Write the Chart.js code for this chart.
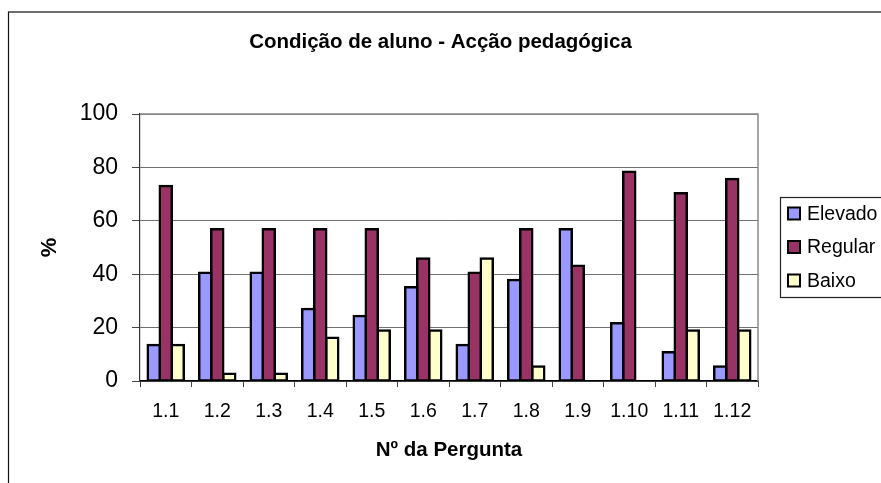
<!DOCTYPE html>
<html>
<head>
<meta charset="utf-8">
<script src="https://cdn.jsdelivr.net/npm/chart.js@4/dist/chart.umd.min.js"></script>
<style>
  html, body { margin: 0; padding: 0; background: #ffffff; }
  #wrap { width: 881px; height: 483px; }
</style>
</head>
<body>
<div id="wrap"><canvas id="c" width="881" height="483"></canvas></div>
<script>
// ---- data ----
const categories = ['1.1', '1.2', '1.3', '1.4', '1.5', '1.6', '1.7', '1.8', '1.9', '1.10', '1.11', '1.12'];
const elevado = [13.5, 40.5, 40.5, 27.0, 24.3, 35.1, 13.5, 37.8, 56.8, 21.6, 10.8, 5.4];
const regular = [73.0, 56.8, 56.8, 56.8, 56.8, 45.9, 40.5, 56.8, 43.2, 78.4, 70.3, 75.7];
const baixo   = [13.5, 2.7, 2.7, 16.2, 18.9, 18.9, 45.9, 5.4, 0, 0, 18.9, 18.9];
const seriesNames = ['Elevado', 'Regular', 'Baixo'];
const yTicks = [0, 20, 40, 60, 80, 100];
const chartTitle = 'Condição de aluno - Acção pedagógica';
const xTitle = 'Nº da Pergunta';
const yTitle = '%';

const FONT = '"Liberation Sans", Arial, Helvetica, sans-serif';
const colors = ['#9999FF', '#993366', '#FFFFCC'];

const bgPlugin = {
  id: 'bg',
  beforeDraw(chart) {
    const ctx = chart.ctx;
    ctx.save();
    ctx.fillStyle = '#ffffff';
    ctx.fillRect(0, 0, chart.width, chart.height);
    ctx.restore();
  },
  afterDraw(chart) {
    const ctx = chart.ctx;
    ctx.save();
    // outer chart border (runs off the right and bottom edges)
    ctx.strokeStyle = '#111111';
    ctx.lineWidth = 1.2;
    ctx.strokeRect(8.5, 12, chart.width + 20, chart.height + 20);
    // plot area border (top & right, grey)
    const a = chart.chartArea;
    ctx.strokeStyle = '#8a8a8a';
    ctx.lineWidth = 1.5;
    ctx.beginPath();
    ctx.moveTo(a.left, a.top);
    ctx.lineTo(a.right, a.top);
    ctx.lineTo(a.right, a.bottom);
    ctx.stroke();
    ctx.restore();
  }
};

const legendPlugin = {
  id: 'customLegend',
  afterDraw(chart) {
    const ctx = chart.ctx;
    const a = chart.chartArea;
    const boxLeft = a.right + 22;
    const boxTop = 197;
    const boxBottom = 297;
    ctx.save();
    ctx.strokeStyle = '#222222';
    ctx.lineWidth = 1.2;
    ctx.strokeRect(boxLeft + 0.5, boxTop + 0.5, 200, boxBottom - boxTop);
    const rows = [213.5, 247, 280.5];
    ctx.font = '19.5px ' + FONT;
    ctx.textBaseline = 'middle';
    ctx.textAlign = 'left';
    chart.data.datasets.forEach((ds, i) => {
      const cy = rows[i];
      ctx.fillStyle = ds.backgroundColor;
      ctx.fillRect(boxLeft + 8, cy - 6, 12, 12);
      ctx.strokeStyle = '#000000';
      ctx.lineWidth = 2;
      ctx.strokeRect(boxLeft + 8, cy - 6, 12, 12);
      ctx.fillStyle = '#000000';
      ctx.fillText(ds.label, boxLeft + 27, cy + 1);
    });
    ctx.restore();
  }
};

const makeDs = (label, data, color) => ({
  label: label,
  data: data,
  backgroundColor: color,
  borderColor: '#000000',
  borderWidth: 2.5,
  borderSkipped: false,
  inflateAmount: 1.25,
  categoryPercentage: 0.7,
  barPercentage: 1.0,
  yAxisID: 'y'
});

new Chart(document.getElementById('c'), {
  type: 'bar',
  data: {
    labels: categories,
    datasets: [
      makeDs(seriesNames[0], elevado, colors[0]),
      makeDs(seriesNames[1], regular, colors[1]),
      makeDs(seriesNames[2], baixo, colors[2])
    ]
  },
  options: {
    responsive: false,
    animation: false,
    devicePixelRatio: 1,
    layout: { padding: 0 },
    plugins: {
      legend: { display: false },
      tooltip: { enabled: false },
      title: {
        display: true,
        text: chartTitle,
        color: '#000000',
        font: { family: FONT, size: 20.5, weight: 'bold' },
        padding: { top: 30, bottom: 59.4 }
      }
    },
    scales: {
      x: {
        offset: true,
        afterFit(scale) { scale.height = 102; },
        grid: {
          display: true,
          drawOnChartArea: false,
          drawTicks: true,
          tickLength: 6,
          tickColor: '#444444',
          offset: true
        },
        border: { display: true, color: '#000000', width: 1.5 },
        ticks: {
          color: '#000000',
          padding: 13,
          maxRotation: 0,
          autoSkip: false,
          font: { family: FONT, size: 19.5 }
        },
        title: {
          display: true,
          text: xTitle,
          color: '#000000',
          font: { family: FONT, size: 20.5, weight: 'bold' },
          padding: { top: 0, bottom: 20.7 }
        }
      },
      y: {
        position: 'left',
        min: yTicks[0],
        max: yTicks[yTicks.length - 1],
        afterFit(scale) { scale.width = 140; },
        afterBuildTicks(scale) { scale.ticks = yTicks.map(v => ({ value: v })); },
        grid: {
          color: '#707070',
          lineWidth: 1,
          drawTicks: true,
          tickLength: 8,
          tickColor: '#444444'
        },
        border: { display: true, color: '#333333', width: 1.2 },
        ticks: {
          color: '#000000',
          padding: 14,
          font: { family: FONT, size: 23 }
        },
        title: {
          display: true,
          text: yTitle,
          color: '#000000',
          font: { family: FONT, size: 22, weight: 'bold' },
          padding: { top: 37, bottom: 0 }
        }
      },
      legendSpace: {
        type: 'linear',
        position: 'right',
        display: true,
        min: 0,
        max: 100,
        afterFit(scale) { scale.width = 123; },
        grid: { display: false, drawOnChartArea: false, drawTicks: false },
        border: { display: false },
        ticks: { display: false }
      }
    }
  },
  plugins: [bgPlugin, legendPlugin]
});
</script>
</body>
</html>
